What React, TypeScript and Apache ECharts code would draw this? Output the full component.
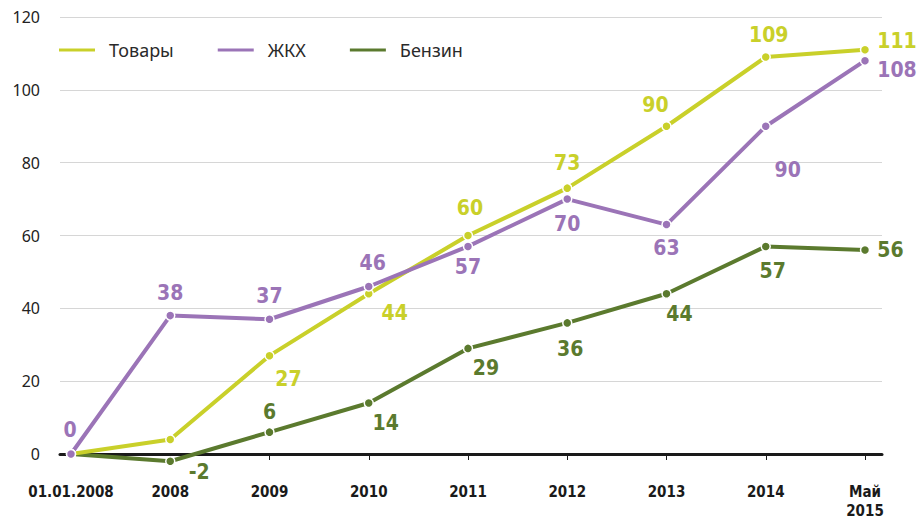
import React, { useEffect, useRef } from "react";
import * as echarts from "echarts";

const categories = ["01.01.2008", "2008", "2009", "2010", "2011", "2012", "2013", "2014", "Май\n2015"];
const tovary = [0, 4, 27, 44, 60, 73, 90, 109, 111];
const zhkh = [0, 38, 37, 46, 57, 70, 63, 90, 108];
const benzin = [0, -2, 6, 14, 29, 36, 44, 57, 56];
const yTicks = [0, 20, 40, 60, 80, 100, 120];

// label placement per point: null = hidden, [dx, dy] = offset from point, "r" = right side with dy
type Place = null | [number, number] | ["r", number];
const tovaryPlace: Place[] = [null, null, [19, 23], [26, 19], [2, -28], [0, -25], [-11, -21], [3, -22], ["r", -9]];
const zhkhPlace: Place[] = [[-1, -24], [0, -23], [0, -23], [4, -23], [0, 21], [0, 25], [0, 23], [22, 44], ["r", 9]];
const benzinPlace: Place[] = [null, [29, 11], [0, -20], [17, 20], [18, 20], [3, 26], [13, 20], [7, 25], ["r", 0]];

const COLORS = { tovary: "#c9d02a", zhkh: "#9b74b7", benzin: "#5b7a2e" };
const LABEL_FONT = "'DejaVu Sans Condensed', 'Liberation Sans Narrow', sans-serif";

function buildData(values: number[], place: Place[]) {
  return values.map((v, i) => {
    const p = place[i];
    if (p === null) return { value: v, label: { show: false } };
    if (p[0] === "r") {
      return {
        value: v,
        label: { show: true, position: "right", distance: 7, offset: [0, p[1] as number] },
      };
    }
    return {
      value: v,
      label: { show: true, position: "inside", offset: [p[0], p[1]] },
    };
  });
}

function makeSeries(name: string, values: number[], place: Place[], color: string) {
  return {
    name,
    type: "line",
    xAxisIndex: 1,
    yAxisIndex: 1,
    clip: false,
    data: buildData(values, place),
    lineStyle: { color, width: 4 },
    itemStyle: { color, borderColor: "#ffffff", borderWidth: 1.5 },
    symbol: "circle",
    symbolSize: 9,
    label: {
      show: true,
      color,
      fontSize: 21,
      fontWeight: "bold",
      fontFamily: LABEL_FONT,
      formatter: (p: any) => String(p.value),
    },
  };
}

export default function App() {
  const ref = useRef<HTMLDivElement>(null);
  useEffect(() => {
    if (!ref.current) return;
    const chart = echarts.init(ref.current, undefined, { renderer: "svg" });
    const top = 17;
    const bottom = 68;
    chart.setOption({
      animation: false,
      backgroundColor: "#ffffff",
      legend: {
        left: 52,
        top: 36,
        itemWidth: 38,
        itemHeight: 5,
        itemGap: 42,
        icon: "rect",
        data: ["Товары", "ЖКХ", "Бензин"],
        textStyle: {
          color: "#2a2a2a",
          fontSize: 18,
          fontFamily: "'Noto Sans', sans-serif",
          padding: [0, 0, 0, 8],
        },
      },
      grid: [
        { left: 60, right: 35, top, bottom, containLabel: false, outerBoundsMode: "none" },
        { left: 71, right: 52, top, bottom, containLabel: false, outerBoundsMode: "none" },
      ],
      xAxis: [
        {
          type: "value",
          gridIndex: 0,
          min: 0,
          max: 1,
          axisLine: { show: true, onZero: false, lineStyle: { color: "#1a1a1a", width: 3 } },
          axisTick: { show: false },
          axisLabel: { show: false },
          splitLine: { show: false },
        },
        {
          type: "category",
          gridIndex: 1,
          data: categories,
          boundaryGap: false,
          axisLine: { show: false },
          axisTick: {
            show: true,
            length: 6,
            inside: false,
            lineStyle: { color: "#1a1a1a", width: 1 },
            interval: (i: number) => i > 0,
          },
          axisLabel: {
            interval: 0,
            color: "#1a1a1a",
            fontSize: 15,
            fontWeight: "bold",
            fontFamily: LABEL_FONT,
            margin: 28,
            lineHeight: 19,
            verticalAlign: "top",
          },
          splitLine: { show: false },
        },
      ],
      yAxis: [
        {
          type: "value",
          gridIndex: 0,
          min: 0,
          max: 120,
          interval: 20,
          axisLine: { show: false },
          axisTick: { show: false },
          axisLabel: {
            color: "#222222",
            fontSize: 16,
            fontFamily: "'Noto Sans', sans-serif",
            margin: 20,
            formatter: (v: number) => (yTicks.includes(v) ? String(v) : ""),
          },
          splitLine: { show: true, lineStyle: { color: "#d6d6d6", width: 1 } },
        },
        {
          type: "value",
          gridIndex: 1,
          min: 0,
          max: 120,
          interval: 20,
          axisLine: { show: false },
          axisTick: { show: false },
          axisLabel: { show: false },
          splitLine: { show: false },
        },
      ],
      series: [
        makeSeries("Бензин", benzin, benzinPlace, COLORS.benzin),
        makeSeries("Товары", tovary, tovaryPlace, COLORS.tovary),
        makeSeries("ЖКХ", zhkh, zhkhPlace, COLORS.zhkh),
      ],
    });
    return () => chart.dispose();
  }, []);
  return (
    <div
      ref={ref}
      style={{ position: "absolute", left: 0, top: 0, width: 917, height: 522 }}
    />
  );
}
